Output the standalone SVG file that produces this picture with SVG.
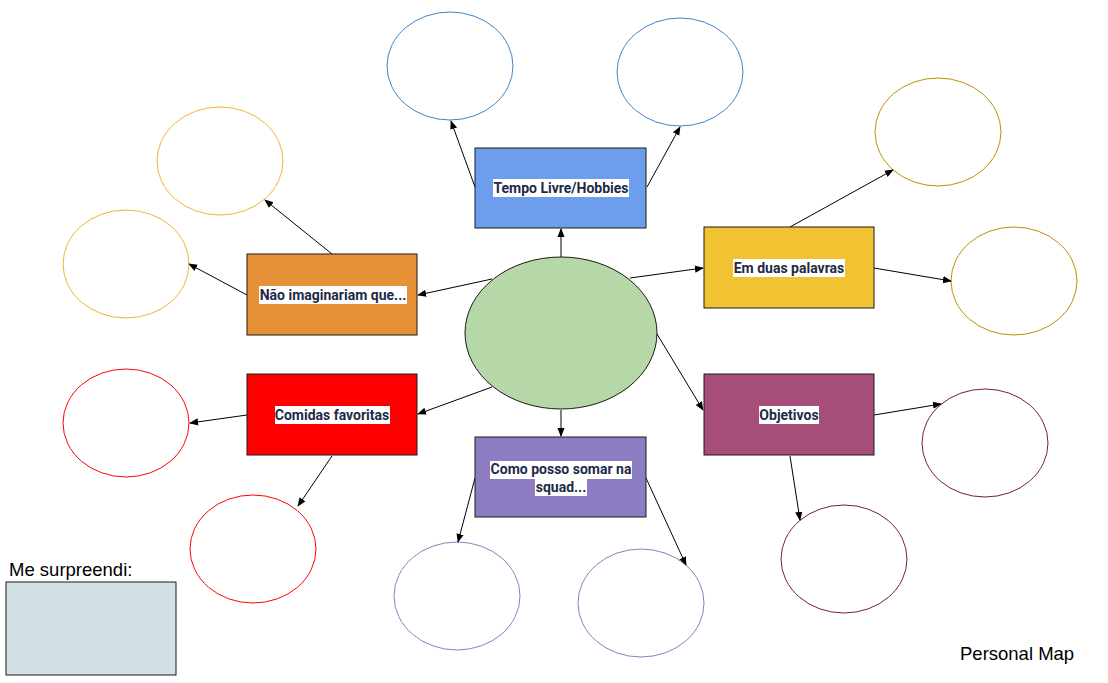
<svg xmlns="http://www.w3.org/2000/svg" width="1108" height="683" viewBox="0 0 1108 683">
<style>
.box{stroke:#1a1a1a;stroke-width:1}
.lbl{font-family:Roboto,"Liberation Sans",sans-serif;font-weight:bold;font-size:14px;fill:#1d2a47;text-anchor:middle}
.hl{fill:#ffffff}
.c{fill:#ffffff;stroke-width:1}
.plain{font-family:"Liberation Sans",Arial,sans-serif;font-size:18.5px;fill:#000}
.conn line{stroke:#000;stroke-width:1;marker-end:url(#ah)}
</style>
<defs>
<marker id="ah" viewBox="0 0 10 10" refX="9" refY="5" markerWidth="9" markerHeight="9" markerUnits="userSpaceOnUse" orient="auto">
<path d="M0,1 L10,5 L0,9 z" fill="#000"/>
</marker>
</defs>
<rect width="1108" height="683" fill="#ffffff"/>

<g id="center"><ellipse cx="561" cy="333" rx="96" ry="76" fill="#b6d7a8" stroke="#1a1a1a" stroke-width="1"/></g>

<g id="circle-blue1"><ellipse class="c" cx="450" cy="66" rx="63" ry="54" stroke="#3d85c6"/></g>
<g id="circle-blue2"><ellipse class="c" cx="680" cy="72" rx="63" ry="54" stroke="#3d85c6"/></g>
<g id="circle-yellow1"><ellipse class="c" cx="938" cy="132" rx="63" ry="54" stroke="#bf9000"/></g>
<g id="circle-yellow2"><ellipse class="c" cx="1014" cy="281" rx="63" ry="54" stroke="#bf9000"/></g>
<g id="circle-orange1"><ellipse class="c" cx="220" cy="161" rx="63" ry="54" stroke="#f1b42f"/></g>
<g id="circle-orange2"><ellipse class="c" cx="126" cy="264" rx="63" ry="54" stroke="#f1b42f"/></g>
<g id="circle-red1"><ellipse class="c" cx="126" cy="423" rx="63" ry="54" stroke="#ff0000"/></g>
<g id="circle-red2"><ellipse class="c" cx="253" cy="549" rx="63" ry="54" stroke="#ff0000"/></g>
<g id="circle-purple1"><ellipse class="c" cx="457" cy="596" rx="63" ry="54" stroke="#8e7cc3"/></g>
<g id="circle-purple2"><ellipse class="c" cx="641" cy="603" rx="63" ry="54" stroke="#8e7cc3"/></g>
<g id="circle-maroon1"><ellipse class="c" cx="985" cy="443" rx="63" ry="54" stroke="#741b47"/></g>
<g id="circle-maroon2"><ellipse class="c" cx="844" cy="559" rx="63" ry="54" stroke="#741b47"/></g>

<g id="connectors" class="conn">
<line x1="561" y1="257" x2="561" y2="229"/>
<line x1="630" y1="278" x2="703" y2="268"/>
<line x1="492" y1="279" x2="418" y2="295"/>
<line x1="492" y1="387" x2="418" y2="414"/>
<line x1="657" y1="334" x2="703" y2="410"/>
<line x1="561" y1="410" x2="561" y2="436"/>
<line x1="475" y1="187" x2="451" y2="121"/>
<line x1="647" y1="187" x2="680" y2="127"/>
<line x1="790" y1="227" x2="893" y2="170"/>
<line x1="874" y1="268" x2="951" y2="281"/>
<line x1="332" y1="254" x2="265" y2="200"/>
<line x1="247" y1="295" x2="189" y2="264"/>
<line x1="247" y1="415" x2="190" y2="423"/>
<line x1="332" y1="456" x2="298" y2="506"/>
<line x1="475" y1="478" x2="458" y2="542"/>
<line x1="646" y1="478" x2="686" y2="565"/>
<line x1="874" y1="415" x2="941" y2="404"/>
<line x1="790" y1="456" x2="800" y2="520"/>
</g>

<g id="box-tempo">
<rect class="box" x="475" y="148" width="171" height="80" fill="#6d9eeb"/>
<rect class="hl" x="493" y="179" width="136" height="18"/>
<text class="lbl" x="561" y="193">Tempo Livre/Hobbies</text>
</g>
<g id="box-emduas">
<rect class="box" x="704" y="227" width="170" height="81" fill="#f1c232"/>
<rect class="hl" x="733" y="259" width="112" height="18"/>
<text class="lbl" x="789" y="273">Em duas palavras</text>
</g>
<g id="box-nao">
<rect class="box" x="247" y="254" width="170" height="81" fill="#e69138"/>
<rect class="hl" x="259" y="286" width="148" height="18"/>
<text class="lbl" x="333" y="300">Não imaginariam que...</text>
</g>
<g id="box-comidas">
<rect class="box" x="247" y="374" width="170" height="81" fill="#ff0000"/>
<rect class="hl" x="275" y="406" width="115" height="18"/>
<text class="lbl" x="332" y="420">Comidas favoritas</text>
</g>
<g id="box-objetivos">
<rect class="box" x="704" y="374" width="170" height="81" fill="#a64d79"/>
<rect class="hl" x="759" y="406" width="60" height="18"/>
<text class="lbl" x="789" y="420">Objetivos</text>
</g>
<g id="box-como">
<rect class="box" x="475" y="437" width="171" height="80" fill="#8e7cc3"/>
<rect class="hl" x="490" y="461" width="142" height="18"/>
<rect class="hl" x="535" y="479" width="52" height="17"/>
<text class="lbl" x="561" y="474">Como posso somar na</text>
<text class="lbl" x="561" y="492">squad...</text>
</g>

<g id="surpreendi">
<text class="plain" x="9" y="576">Me surpreendi:</text>
<rect class="box" x="6" y="582" width="170" height="93" fill="#d0e0e3"/>
</g>
<g id="title">
<text class="plain" x="960" y="660">Personal Map</text>
</g>
</svg>
